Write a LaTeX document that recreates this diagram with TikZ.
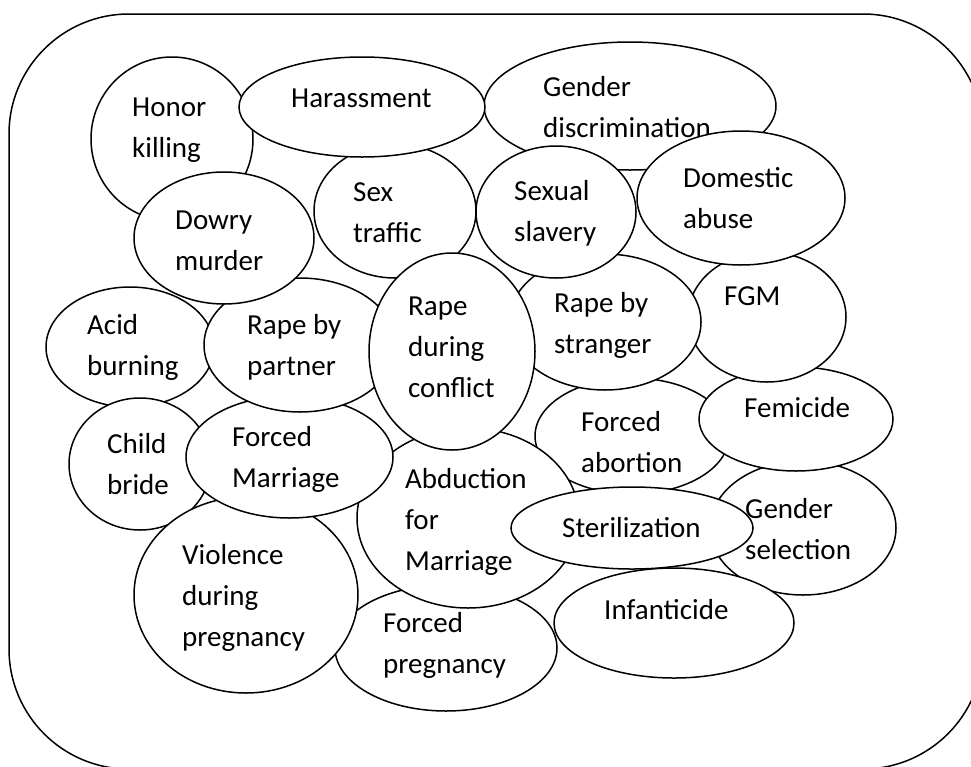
\documentclass[tikz,border=0pt]{standalone}
\usepackage{fontspec}
\setmainfont{Carlito}
\usetikzlibrary{shapes.geometric}
\begin{document}
\begin{tikzpicture}[x=1pt,y=-1pt,
  blob/.style={ellipse, draw=black, fill=white, inner sep=0pt, line width=1.5pt},
  txt/.style={anchor=base west, align=left, inner sep=0pt, font=\fontsize{29}{41}\selectfont},
  frame/.style={draw=black, line width=1.5pt, rounded corners=120pt}]
\useasboundingbox (0,0) rectangle (971,766);
\clip (0,0) rectangle (971,766);
\draw[frame] (9,14) rectangle (983,769);
% text nodes are anchored at the baseline of their last line
\node[blob, minimum width=186pt, minimum height=134pt] (gsel) at (803,528) {};
\node[txt] (gselt) at (745,559) {Gender\\selection};
\node[blob, minimum width=194pt, minimum height=116pt] (fabort) at (632,436) {};
\node[txt] (fabortt) at (581,472) {Forced\\abortion};
\node[blob, minimum width=240pt, minimum height=110pt] (infant) at (674,623) {};
\node[txt] (infantt) at (604,619) {Infanticide};
\node[blob, minimum width=194pt, minimum height=104pt] (femi) at (796,419) {};
\node[txt] (femit) at (744,417) {Femicide};
\node[blob, minimum width=158pt, minimum height=130pt] (fgm) at (767,317) {};
\node[txt] (fgmt) at (724,305) {FGM};
\node[blob, minimum width=222pt, minimum height=126pt] (fpreg) at (446,648) {};
\node[txt] (fpregt) at (383,673) {Forced\\pregnancy};
\node[blob, minimum width=222pt, minimum height=180pt] (abduct) at (468,518) {};
\node[txt] (abductt) at (405,570) {Abduction\\for\\Marriage};
\node[blob, minimum width=242pt, minimum height=82pt] (steril) at (632,528) {};
\node[txt] (sterilt) at (562,537) {Sterilization};
\node[blob, minimum width=168pt, minimum height=120pt] (acid) at (130,347) {};
\node[txt] (acidt) at (87,375) {Acid\\burning};
\node[blob, minimum width=142pt, minimum height=132pt] (cbride) at (140,464) {};
\node[txt] (cbridet) at (107,494) {Child\\bride};
\node[blob, minimum width=224pt, minimum height=196pt] (viol) at (246,595) {};
\node[txt] (violt) at (182,646) {Violence\\during\\pregnancy};
\node[blob, minimum width=207pt, minimum height=122pt] (fmarr) at (289.5,457) {};
\node[txt] (fmarrt) at (232,487) {Forced\\Marriage};
\node[blob, minimum width=192pt, minimum height=134pt] (partner) at (300,345) {};
\node[txt] (partnert) at (247,375) {Rape by\\partner};
\node[blob, minimum width=162pt, minimum height=164pt] (honor) at (172,139) {};
\node[txt] (honort) at (132,157) {Honor\\killing};
\node[blob, minimum width=292pt, minimum height=128pt] (gdisc) at (630,106) {};
\node[txt] (gdisct) at (543,137) {Gender\\discrimination};
\node[blob, minimum width=162pt, minimum height=134pt] (sext) at (395,211) {};
\node[txt] (sextt) at (353,242) {Sex\\traffic};
\node[blob, minimum width=246pt, minimum height=100pt] (harass) at (362,107) {};
\node[txt] (harasst) at (291,107) {Harassment};
\node[blob, minimum width=192pt, minimum height=136pt] (stranger) at (605,322) {};
\node[txt] (strangert) at (554,353) {Rape by\\stranger};
\node[blob, minimum width=166pt, minimum height=197pt] (conflict) at (452,351.5) {};
\node[txt] (conflictt) at (408,397) {Rape\\during\\conflict};
\node[blob, minimum width=180pt, minimum height=132pt] (dowry) at (224,238) {};
\node[txt] (dowryt) at (175,270) {Dowry\\murder};
\node[blob, minimum width=160pt, minimum height=132pt] (sslav) at (556,212) {};
\node[txt] (sslavt) at (514,241) {Sexual\\slavery};
\node[blob, minimum width=208pt, minimum height=134pt] (domestic) at (741,198) {};
\node[txt] (domestict) at (683,228) {Domestic\\abuse};
\end{tikzpicture}
\end{document}
